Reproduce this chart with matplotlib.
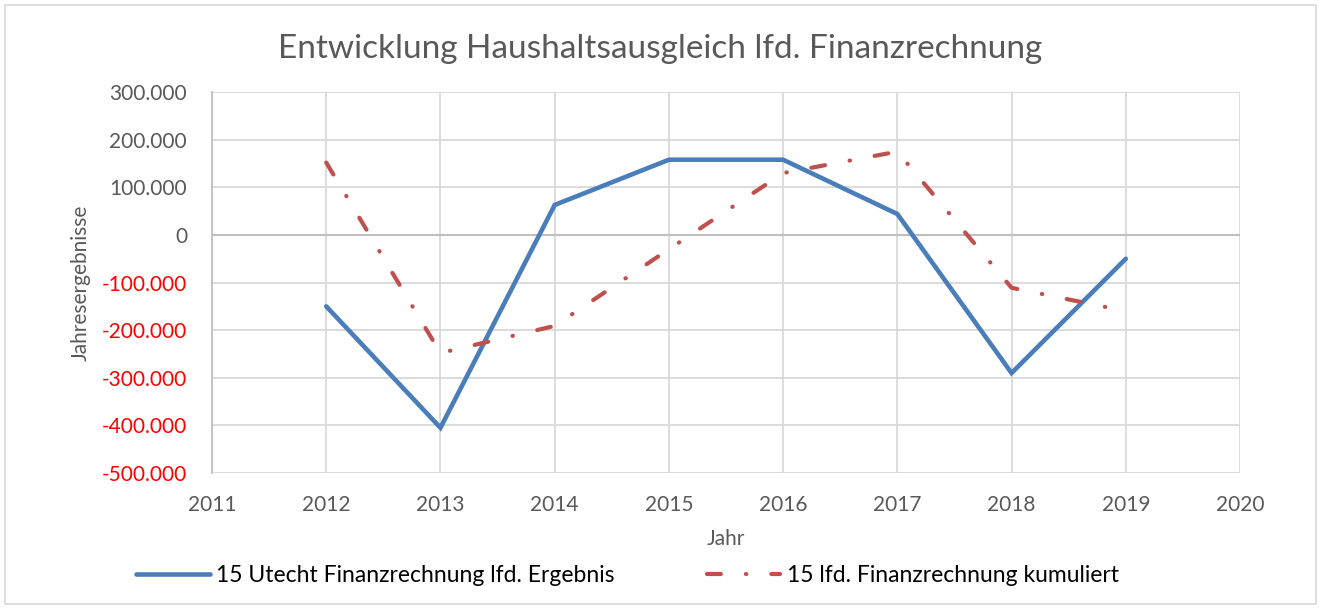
import matplotlib.pyplot as plt
from matplotlib.patches import Rectangle
from matplotlib.ticker import FuncFormatter

plt.rcParams['font.family'] = ['Lato', 'DejaVu Sans']
plt.rcParams['lines.scale_dashes'] = False

years = [2012, 2013, 2014, 2015, 2016, 2017, 2018, 2019]
ergebnis = [-150000, -405000, 63000, 158000, 158000, 44000, -290000, -50000]
kumuliert = [152000, -248000, -191000, -30000, 130000, 175000, -111000, -160000]

label_blue = "15 Utecht Finanzrechnung lfd. Ergebnis"
label_red = "15 lfd. Finanzrechnung kumuliert"

grey = '#595959'

fig = plt.figure(figsize=(13.21, 6.08), dpi=100)
fig.patches.append(Rectangle((0.004, 0.006), 0.992, 0.986, transform=fig.transFigure,
                             fill=False, edgecolor='#d9d9d9', linewidth=1.2))
ax = fig.add_axes([0.1605, 0.222, 0.7782, 0.6265])

ax.plot(years, ergebnis, color='#4a7ebb', linewidth=3.3, label=label_blue,
        solid_capstyle='round', solid_joinstyle='miter', zorder=3)
ax.plot(years, kumuliert, color='#c0504d', linewidth=3.0, label=label_red,
        dashes=(10, 18, 0.3, 18), dash_capstyle='round', zorder=4)

ax.set_xlim(2011, 2020)
ax.set_ylim(-500000, 300000)
ax.set_xticks(range(2011, 2021))
ax.set_yticks(range(-500000, 300001, 100000))


def fmt(v, pos):
    if v == 0:
        return "0"
    return f"{int(v):,}".replace(",", ".")


ax.yaxis.set_major_formatter(FuncFormatter(fmt))
ax.tick_params(length=0, labelsize=15, colors=grey)
ax.tick_params(axis='y', pad=18)
ax.tick_params(axis='x', pad=16)
for lab, v in zip(ax.get_yticklabels(), ax.get_yticks()):
    if v < 0:
        lab.set_color('#ff0000')

ax.grid(True, color='#d9d9d9', linewidth=1.3)
ax.axhline(0, color='#bfbfbf', linewidth=1.5, zorder=2)
for s in ax.spines.values():
    s.set_visible(False)
ax.spines['left'].set_visible(True)
ax.spines['left'].set_color('#bfbfbf')
ax.spines['left'].set_linewidth(1.3)

ax.set_xlabel("Jahr", fontsize=15, color=grey, labelpad=10)
ax.set_ylabel("Jahresergebnisse", fontsize=15, color=grey, labelpad=8)
fig.text(0.5, 0.92, "Entwicklung Haushaltsausgleich lfd. Finanzrechnung",
         ha='center', va='center', fontsize=24, color=grey)

fig.legend(loc='center', bbox_to_anchor=(0.475, 0.053), ncol=2, frameon=False,
           fontsize=16.5, handlelength=3.2, handletextpad=0.3, columnspacing=4.0,
           labelcolor='black')

fig.savefig('out.png', dpi=100)
